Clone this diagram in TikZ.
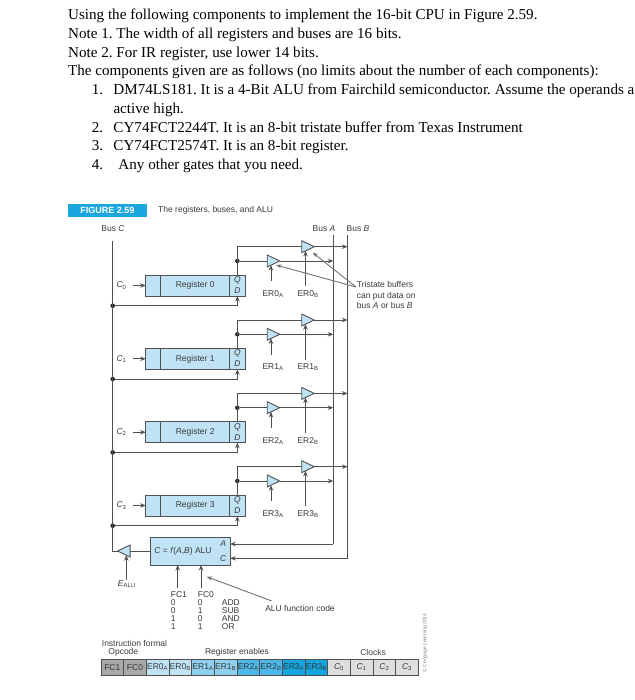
\documentclass[tikz,border=0pt]{standalone}
\usepackage{fontspec}
\setmainfont{Liberation Serif}
\setsansfont{Liberation Sans}
\usepackage{xcolor}
\usetikzlibrary{shapes.geometric,arrows.meta,positioning}
\definecolor{regblue}{HTML}{BFE3F5}
\definecolor{figblue}{HTML}{1BA6DF}
\definecolor{wiregray}{HTML}{505050}
\definecolor{inkgray}{HTML}{3A3A3A}
\definecolor{capgray}{HTML}{A8A8A8}
\definecolor{cellgray}{HTML}{DEDEDE}
\definecolor{enableA}{HTML}{BFE3F5}
\definecolor{enableB}{HTML}{8FD0EE}
\definecolor{enableC}{HTML}{4DB8E8}
\definecolor{enableD}{HTML}{12A5DF}

\begin{document}
\begin{tikzpicture}[
    x=1pt, y=-1pt,
    % --- STYLES ---
    bodyline/.style={anchor=base west, inner sep=0pt, font=\fontsize{15.1}{18}\selectfont\rmfamily\frenchspacing},
    label/.style={inner sep=0pt, text=inkgray, font=\fontsize{8.5}{10}\selectfont\sffamily},
    tablecol/.style={inner sep=0pt, align=left, anchor=north west, text=inkgray, font=\fontsize{8.5}{8}\selectfont\sffamily},
    regcell/.style={rectangle, draw=wiregray, line width=0.9pt, fill=regblue, inner sep=0pt, outer sep=0pt,
        minimum height=21pt, text=inkgray, font=\fontsize{8.5}{10}\selectfont\sffamily},
    portlabel/.style={rectangle, inner sep=0pt, outer sep=0pt,
        minimum width=15.3pt, minimum height=10.5pt, text=inkgray, font=\fontsize{8.5}{10}\selectfont\sffamily\itshape},
    buffer/.style={isosceles triangle, isosceles triangle stretches, draw=wiregray, line width=0.9pt, fill=regblue,
        inner sep=0pt, outer sep=0pt, minimum width=12pt, minimum height=12.5pt},
    barcell/.style={rectangle, draw=wiregray, inner sep=0pt, outer sep=0pt,
        minimum width=22.67pt, minimum height=15.7pt, text=inkgray, font=\fontsize{8.5}{10}\selectfont\sffamily},
    dot/.style={circle, fill=black!85, inner sep=0pt, minimum size=4.6pt},
    wire/.style={draw=wiregray, line width=1pt},
    sig/.style={wire, -{Stealth[length=5.5pt,width=4.5pt]}},
    callout/.style={draw=wiregray!80, line width=0.9pt, -{Stealth[length=5.5pt,width=4pt]}}
]
\useasboundingbox (0,0) rectangle (634,700);

% ===== 1. TEXT ON TOP =====
\node[bodyline] (line1) at (68,20) {Using the following components to implement the 16-bit CPU in Figure 2.59.};
\node[bodyline] (line2) at (68,38.3) {Note 1. The width of all registers and buses are 16 bits.};
\node[bodyline] (line3) at (68,57.3) {Note 2. For IR register, use lower 14 bits.};
\node[bodyline] (line4) at (68,76) {The components given are as follows (no limits about the number of each components):};
\node[bodyline] (item1) at (91.7,94.3) {\makebox[21.6pt][l]{1.}DM74LS181. It is a 4-Bit ALU from Fairchild semiconductor. Assume the operands a};
\node[bodyline] (item1b) at (113.3,113.3) {active high.};
\node[bodyline] (item2) at (91.7,132.3) {\makebox[21.6pt][l]{2.}CY74FCT2244T. It is an 8-bit tristate buffer from Texas Instrument};
\node[bodyline] (item3) at (91.7,150.7) {\makebox[21.6pt][l]{3.}CY74FCT2574T. It is an 8-bit register.};
\node[bodyline] (item4) at (91.7,170) {\makebox[26.6pt][l]{4.}Any other gates that you need.};

% ===== 2. FIGURE HEADER AND BUSES =====
\node[fill=figblue, text=white, inner sep=0pt, minimum width=79pt, minimum height=13pt,
    font=\fontsize{9}{10}\selectfont\sffamily\bfseries] (figtag) at (107.5,210.5) {FIGURE 2.59};
\node[label, anchor=west] (figtitle) at (158,210.5) {The registers, buses, and ALU};

\node[label] (busClabel) at (113,229) {Bus \textit{C}};
\node[label] (busAlabel) at (324,229) {Bus \textit{A}};
\node[label] (busBlabel) at (358,229) {Bus \textit{B}};

\coordinate (busCtop) at (112.7,241);
\coordinate (busCbot) at (112.7,551);
\coordinate (busAtop) at (333.3,235);
\coordinate (busAbot) at (333.3,544);
\coordinate (busBtop) at (347.5,235);
\coordinate (busBbot) at (347.5,558.3);

% ===== 3. REGISTER 0 =====
\node[regcell, minimum width=69pt] (reg0) at (195.2,285.5) {Register 0};
\node[regcell, minimum width=15pt, left=0pt of reg0] (clk0) {};
\node[regcell, minimum width=15.3pt, right=0pt of reg0] (port0) {};
\node[portlabel] (q0) at (237.35,280.25) {Q};
\node[portlabel, below=0pt of q0] (d0) {D};
\node[label, left=19pt of clk0] (c0) {\textit{C}\textsubscript{0}};
\node[buffer] (buf0a) at (271,261) {};
\node[buffer] (buf0b) at (305.5,246.7) {};
\node[label] (er0a) at (273,294) {ER0\textsubscript{A}};
\node[label] (er0b) at (308,294) {ER0\textsubscript{B}};
\node[dot] (qdot0) at (q0 |- buf0a) {};
\node[dot] (cdot0) at (112.7,305.7) {};

% ===== 4. REGISTER 1 =====
\node[regcell, minimum width=69pt] (reg1) at (195.2,358.8) {Register 1};
\node[regcell, minimum width=15pt, left=0pt of reg1] (clk1) {};
\node[regcell, minimum width=15.3pt, right=0pt of reg1] (port1) {};
\node[portlabel] (q1) at (237.35,353.55) {Q};
\node[portlabel, below=0pt of q1] (d1) {D};
\node[label, left=19pt of clk1] (c1) {\textit{C}\textsubscript{1}};
\node[buffer] (buf1a) at (271,334.3) {};
\node[buffer] (buf1b) at (305.5,320) {};
\node[label] (er1a) at (273,367.3) {ER1\textsubscript{A}};
\node[label] (er1b) at (308,367.3) {ER1\textsubscript{B}};
\node[dot] (qdot1) at (q1 |- buf1a) {};
\node[dot] (cdot1) at (112.7,379) {};

% ===== 5. REGISTER 2 =====
\node[regcell, minimum width=69pt] (reg2) at (195.2,432.2) {Register 2};
\node[regcell, minimum width=15pt, left=0pt of reg2] (clk2) {};
\node[regcell, minimum width=15.3pt, right=0pt of reg2] (port2) {};
\node[portlabel] (q2) at (237.35,426.95) {Q};
\node[portlabel, below=0pt of q2] (d2) {D};
\node[label, left=19pt of clk2] (c2) {\textit{C}\textsubscript{2}};
\node[buffer] (buf2a) at (271,407.7) {};
\node[buffer] (buf2b) at (305.5,393.4) {};
\node[label] (er2a) at (273,440.7) {ER2\textsubscript{A}};
\node[label] (er2b) at (308,440.7) {ER2\textsubscript{B}};
\node[dot] (qdot2) at (q2 |- buf2a) {};
\node[dot] (cdot2) at (112.7,452.4) {};

% ===== 6. REGISTER 3 =====
\node[regcell, minimum width=69pt] (reg3) at (195.2,505.5) {Register 3};
\node[regcell, minimum width=15pt, left=0pt of reg3] (clk3) {};
\node[regcell, minimum width=15.3pt, right=0pt of reg3] (port3) {};
\node[portlabel] (q3) at (237.35,500.25) {Q};
\node[portlabel, below=0pt of q3] (d3) {D};
\node[label, left=19pt of clk3] (c3) {\textit{C}\textsubscript{3}};
\node[buffer] (buf3a) at (271,481) {};
\node[buffer] (buf3b) at (305.5,466.7) {};
\node[label] (er3a) at (273,514) {ER3\textsubscript{A}};
\node[label] (er3b) at (308,514) {ER3\textsubscript{B}};
\node[dot] (qdot3) at (q3 |- buf3a) {};
\node[dot] (cdot3) at (112.7,525.7) {};

% ===== 7. ALU =====
\node[regcell, minimum width=80pt, minimum height=28pt] (alu) at (190.2,551) {};
\node[label, anchor=center] (alutext) at (183,551) {\textit{C} = \textit{f}(\textit{A},\textit{B}) ALU};
\node[label, font=\fontsize{8.5}{10}\selectfont\sffamily\itshape] (aluA) at (223.3,544) {A};
\node[label, font=\fontsize{8.5}{10}\selectfont\sffamily\itshape] (aluC) at (223.3,558.3) {C};
\node[buffer, shape border rotate=180] (bufalu) at (126.3,551) {};
\node[label] (ealu) at (126.7,584) {\textit{E}\textsubscript{ALU}};

\node[tablecol] (fc1col) at (170.7,591) {FC1\\0\\0\\1\\1};
\node[tablecol] (fc0col) at (197.7,591) {FC0\\0\\1\\0\\1};
\node[tablecol] (opcol) at (221.7,599) {ADD\\SUB\\AND\\OR};
\node[label] (alucode) at (300,608.7) {ALU function code};
\coordinate (fc1in) at (177.7,588.3);
\coordinate (fc0in) at (201,588.3);
\coordinate (alucodefrom) at (271.7,601);
\coordinate (alucodetip) at (206.7,576.7);

% ===== 8. NOTE =====
\node[tablecol, font=\fontsize{8.5}{10.2}\selectfont\sffamily] (tristate) at (356.7,281.5) {Tristate buffers\\can put data on\\bus \textit{A} or bus \textit{B}};
\coordinate (tristatefrom) at (356,287);
\coordinate (tipb) at (312.5,252.5);
\coordinate (tipa) at (276,265);

% ===== 9. INSTRUCTION FORMAT =====
\node[label, anchor=west] (formal) at (101.7,643) {Instruction formal};
\node[label] (opcode) at (123.3,652.7) {Opcode};
\node[label] (enables) at (237,652.7) {Register enables};
\node[label] (clocks) at (373,652.7) {Clocks};

\node[barcell, fill=capgray] (fc1) at (112.3,667.2) {FC1};
\node[barcell, fill=capgray, right=0pt of fc1] (fc0) {FC0};
\node[barcell, fill=enableA, right=0pt of fc0] (cell0a) {ER0\textsubscript{A}};
\node[barcell, fill=enableA, right=0pt of cell0a] (cell0b) {ER0\textsubscript{B}};
\node[barcell, fill=enableB, right=0pt of cell0b] (cell1a) {ER1\textsubscript{A}};
\node[barcell, fill=enableB, right=0pt of cell1a] (cell1b) {ER1\textsubscript{B}};
\node[barcell, fill=enableC, right=0pt of cell1b] (cell2a) {ER2\textsubscript{A}};
\node[barcell, fill=enableC, right=0pt of cell2a] (cell2b) {ER2\textsubscript{B}};
\node[barcell, fill=enableD, right=0pt of cell2b] (cell3a) {ER3\textsubscript{A}};
\node[barcell, fill=enableD, right=0pt of cell3a] (cell3b) {ER3\textsubscript{B}};
\node[barcell, fill=cellgray, right=0pt of cell3b] (cellc0) {\textit{C}\textsubscript{0}};
\node[barcell, fill=cellgray, right=0pt of cellc0] (cellc1) {\textit{C}\textsubscript{1}};
\node[barcell, fill=cellgray, right=0pt of cellc1] (cellc2) {\textit{C}\textsubscript{2}};
\node[barcell, fill=cellgray, right=0pt of cellc2] (cellc3) {\textit{C}\textsubscript{3}};

\node[rotate=90, inner sep=0pt, text=gray, font=\fontsize{5}{6}\selectfont\sffamily] (credit) at (425,643) {© Cengage Learning 2014};

% ===== 10. CONNECTIONS =====

% -- Buses --
\draw[wire] (busCtop) -- (busCbot) -- (bufalu.west);
\draw[wire] (busAtop) -- (busAbot);
\draw[wire] (busBtop) -- (busBbot);
\draw[sig] (busAbot) -- (busAbot -| alu.east);
\draw[sig] (busBbot) -- (busBbot -| alu.east);

% -- Register 0 --
\draw[sig, shorten <=6pt] (c0) -- (clk0);
\draw[sig] (cdot0) -| (d0.south);
\draw[wire] (q0.north) |- (buf0b.west);
\draw[sig] (qdot0) -- (buf0a.west) (buf0a.east) -- (buf0a.east -| busAtop);
\draw[sig] (buf0b.east) -- (buf0b.east -| busBtop);
\draw[sig, shorten <=9pt] (er0a.north -| buf0a.south) -- (buf0a.south);
\draw[sig, shorten <=4pt] (er0b.north -| buf0b.south) -- (buf0b.south);

% -- Register 1 --
\draw[sig, shorten <=6pt] (c1) -- (clk1);
\draw[sig] (cdot1) -| (d1.south);
\draw[wire] (q1.north) |- (buf1b.west);
\draw[sig] (qdot1) -- (buf1a.west) (buf1a.east) -- (buf1a.east -| busAtop);
\draw[sig] (buf1b.east) -- (buf1b.east -| busBtop);
\draw[sig, shorten <=9pt] (er1a.north -| buf1a.south) -- (buf1a.south);
\draw[sig, shorten <=4pt] (er1b.north -| buf1b.south) -- (buf1b.south);

% -- Register 2 --
\draw[sig, shorten <=6pt] (c2) -- (clk2);
\draw[sig] (cdot2) -| (d2.south);
\draw[wire] (q2.north) |- (buf2b.west);
\draw[sig] (qdot2) -- (buf2a.west) (buf2a.east) -- (buf2a.east -| busAtop);
\draw[sig] (buf2b.east) -- (buf2b.east -| busBtop);
\draw[sig, shorten <=9pt] (er2a.north -| buf2a.south) -- (buf2a.south);
\draw[sig, shorten <=4pt] (er2b.north -| buf2b.south) -- (buf2b.south);

% -- Register 3 --
\draw[sig, shorten <=6pt] (c3) -- (clk3);
\draw[sig] (cdot3) -| (d3.south);
\draw[wire] (q3.north) |- (buf3b.west);
\draw[sig] (qdot3) -- (buf3a.west) (buf3a.east) -- (buf3a.east -| busAtop);
\draw[sig] (buf3b.east) -- (buf3b.east -| busBtop);
\draw[sig, shorten <=9pt] (er3a.north -| buf3a.south) -- (buf3a.south);
\draw[sig, shorten <=4pt] (er3b.north -| buf3b.south) -- (buf3b.south);

% -- ALU --
\draw[wire] (alu.west) -- (bufalu.east);
\draw[sig] (ealu.north -| bufalu.south) -- (bufalu.south);
\draw[sig] (fc1in) -- (fc1in |- alu.south);
\draw[sig] (fc0in) -- (fc0in |- alu.south);
\draw[callout] (alucodefrom) -- (alucodetip);

% -- Note --
\draw[callout] (tristatefrom) -- (tipb);
\draw[callout] (tristatefrom) -- (tipa);

\end{tikzpicture}
\end{document}
